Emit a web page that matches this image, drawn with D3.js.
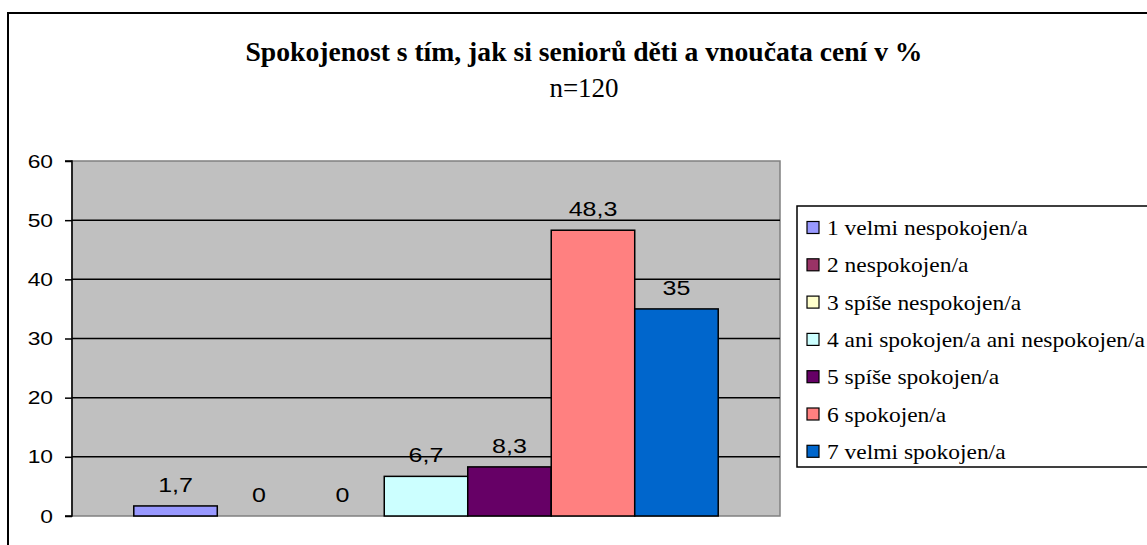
<!DOCTYPE html>
<html>
<head>
<meta charset="utf-8">
<script src="https://cdn.jsdelivr.net/npm/d3@7"></script>
<style>
    body { margin: 0; background: #fff; }
    svg { display: block; }
    .serif { font-family: "Liberation Serif", Tinos, "DejaVu Serif", serif; }
    .sans { font-family: "Liberation Sans", Arimo, Arial, sans-serif; }
</style>
</head>
<body>
<svg id="chart" width="1147" height="545"></svg>
<script>
// data
var categories = ["1 velmi nespokojen/a", "2 nespokojen/a", "3 spíše nespokojen/a",
    "4 ani spokojen/a ani nespokojen/a", "5 spíše spokojen/a", "6 spokojen/a", "7 velmi spokojen/a"];
var values = [1.7, 0, 0, 6.7, 8.3, 48.3, 35];
var valueLabels = ["1,7", "0", "0", "6,7", "8,3", "48,3", "35"];
var colors = ["#9999FF", "#993366", "#FFFFCC", "#CCFFFF", "#660066", "#FF8080", "#0066CC"];
var yTicks = [0, 10, 20, 30, 40, 50, 60];

var title = "Spokojenost s tím, jak si seniorů děti a vnoučata cení v %";
var subtitle = "n=120";

var plot = {left: 72, right: 780, top: 161, bottom: 516};

var svg = d3.select("#chart");

// the source picture is stretched sideways, widen text to match
function stretch(sel, k) {
    sel.each(function () {
        var w = this.getComputedTextLength();
        d3.select(this).attr("textLength", w * k).attr("lengthAdjust", "spacingAndGlyphs");
    });
}

// outer chart frame (right and bottom edges run off the picture)
svg.append("rect")
    .attr("x", 8).attr("y", 13)
    .attr("width", 1200).attr("height", 600)
    .style("fill", "#fff")
    .style("stroke", "#000")
    .style("stroke-width", 2);

svg.append("text")
    .attr("class", "serif")
    .attr("x", 584).attr("y", 61)
    .attr("text-anchor", "middle")
    .attr("textLength", 677)
    .attr("lengthAdjust", "spacingAndGlyphs")
    .style("font-weight", "bold")
    .style("font-size", "28px")
    .text(title);

svg.append("text")
    .attr("class", "serif")
    .attr("x", 584).attr("y", 97)
    .attr("text-anchor", "middle")
    .style("font-size", "27px")
    .text(subtitle);

var yScale = d3.scaleLinear()
    .domain([0, 60])
    .range([plot.bottom, plot.top]);

var xScale = d3.scaleBand()
    .domain(categories)
    .range([plot.left, plot.right])
    .paddingInner(0)
    .paddingOuter(0.74);

// plot area
svg.append("rect")
    .attr("x", plot.left).attr("y", plot.top)
    .attr("width", plot.right - plot.left)
    .attr("height", plot.bottom - plot.top)
    .style("fill", "#C0C0C0")
    .style("stroke", "#808080")
    .style("stroke-width", 1.5);

// gridlines
svg.append("g").selectAll("line")
    .data(yTicks.filter(function (d) { return d > 0 && d < 60; }))
    .enter().append("line")
    .attr("x1", plot.left).attr("x2", plot.right)
    .attr("y1", function (d) { return yScale(d); })
    .attr("y2", function (d) { return yScale(d); })
    .style("stroke", "#000")
    .style("stroke-width", 1.5);

// bars
svg.append("g").selectAll("rect")
    .data(values)
    .enter().append("rect")
    .attr("x", function (d, i) { return xScale(categories[i]); })
    .attr("y", function (d) { return yScale(d); })
    .attr("width", xScale.bandwidth())
    .attr("height", function (d) { return yScale(0) - yScale(d); })
    .style("fill", function (d, i) { return colors[i]; })
    .style("stroke", "#000")
    .style("stroke-width", function (d) { return d > 0 ? 1.5 : 0; });

// value labels
var labels = svg.append("g").selectAll("text")
    .data(values)
    .enter().append("text")
    .attr("class", "sans")
    .attr("x", function (d, i) { return xScale(categories[i]) + xScale.bandwidth() / 2; })
    .attr("y", function (d) { return yScale(d) - 14; })
    .attr("text-anchor", "middle")
    .style("font-size", "20px")
    .style("fill", "#000")
    .text(function (d, i) { return valueLabels[i]; });
stretch(labels, 1.25);

// y axis
var yAxis = d3.axisLeft(yScale)
    .tickValues(yTicks)
    .tickSize(7)
    .tickPadding(12)
    .tickFormat(d3.format("d"));

var gy = svg.append("g")
    .attr("transform", "translate(" + plot.left + ",0)")
    .call(yAxis);
gy.attr("font-family", null).attr("font-size", null);
gy.select(".domain").attr("d", "M-7," + plot.top + "H0V" + plot.bottom + "H-7")
    .style("stroke", "#000").style("stroke-width", 1.5);
gy.selectAll(".tick line").style("stroke", "#000").style("stroke-width", 1.5);
var tickText = gy.selectAll(".tick text")
    .attr("class", "sans")
    .style("font-size", "19px")
    .style("fill", "#000");
stretch(tickText, 1.2);

// legend
var legend = svg.append("g");
legend.append("rect")
    .attr("x", 797).attr("y", 206)
    .attr("width", 400).attr("height", 261)
    .style("fill", "#fff")
    .style("stroke", "#000")
    .style("stroke-width", 1.5);

var entry = legend.selectAll("g.entry")
    .data(categories)
    .enter().append("g")
    .attr("class", "entry")
    .attr("transform", function (d, i) { return "translate(807," + (228 + i * 37.3) + ")"; });

entry.append("rect")
    .attr("x", 0).attr("y", -6.5)
    .attr("width", 12).attr("height", 12)
    .style("fill", function (d, i) { return colors[i]; })
    .style("stroke", "#000")
    .style("stroke-width", 1.2);

var legendText = entry.append("text")
    .attr("class", "serif")
    .attr("x", 20).attr("y", 7)
    .style("font-size", "21px")
    .style("fill", "#000")
    .text(function (d) { return d; });

// widest entry reaches the right edge of the picture
var widest = d3.max(legendText.nodes(), function (n) { return n.getComputedTextLength(); });
stretch(legendText, 318 / widest);
</script>
</body>
</html>
